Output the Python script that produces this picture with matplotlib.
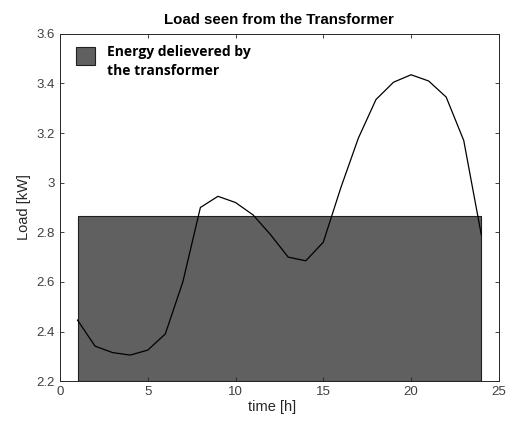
import numpy as np
import matplotlib.pyplot as plt
from matplotlib.patches import Rectangle

# hourly load profile [kW]
hours = np.arange(1, 25)
load = [2.446, 2.341, 2.315, 2.305, 2.325, 2.39, 2.60, 2.90, 2.945, 2.92, 2.87, 2.79,
        2.70, 2.685, 2.76, 2.98, 3.18, 3.335, 3.405, 3.435, 3.41, 3.345, 3.17, 2.79]
# constant power delivered by the transformer [kW]
p_transf = 2.865

plt.rcParams['font.family'] = ['Liberation Sans', 'DejaVu Sans']

fig = plt.figure(figsize=(5.08, 4.23), dpi=100)
ax = fig.add_axes([0.118, 0.099, 0.864, 0.821])

fill_col = '#606060'
ax.fill_between([hours[0], hours[-1]], 2.2, p_transf, color=fill_col,
                edgecolor='#202020', linewidth=0.8)
ax.plot(hours, load, color='black', linewidth=0.9)

ax.set_xlim(0, 25)
ax.set_ylim(2.2, 3.6)
ax.set_xticks([0, 5, 10, 15, 20, 25])
ax.set_yticks(np.arange(2.2, 3.61, 0.2))
ax.set_yticklabels(['2.2', '2.4', '2.6', '2.8', '3', '3.2', '3.4', '3.6'])
ax.tick_params(direction='in', top=True, right=True, length=3, width=0.6,
               labelsize=9.5, colors='#262626', labelcolor='#404040')
for sp in ax.spines.values():
    sp.set_linewidth(0.7)
    sp.set_color('#262626')

ax.set_xlabel('time [h]', fontsize=10.5, color='#262626', labelpad=2)
ax.xaxis.set_label_coords(0.483, -0.055)
ax.set_ylabel('Load [kW]', fontsize=10.5, color='#262626', labelpad=4)
ax.set_title('Load seen from the Transformer', fontsize=10.8, fontweight='bold',
             color='black', pad=7)

# legend entry, patch aligned with the first text line
ax.add_patch(Rectangle((0.036, 0.911), 0.043, 0.051, transform=ax.transAxes,
                       facecolor=fill_col, edgecolor='#202020', linewidth=0.8,
                       clip_on=False, zorder=5))
ax.text(0.107, 0.968, 'Energy delievered by\nthe transformer', transform=ax.transAxes,
        ha='left', va='top', family='Open Sans', fontweight='bold', fontsize=10,
        linespacing=1.5, color='black', zorder=5)

fig.savefig('out.png', dpi=100)
